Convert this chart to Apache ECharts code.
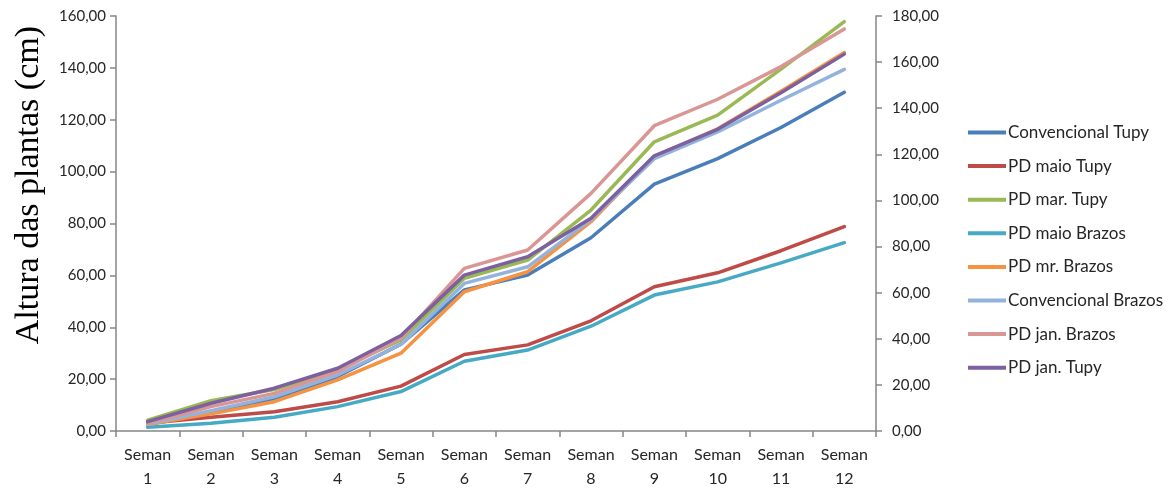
<!DOCTYPE html>
<html>
<head>
<meta charset="utf-8">
<script src="https://cdn.jsdelivr.net/npm/echarts@6/dist/echarts.min.js"></script>
<style>
html,body{margin:0;padding:0;background:#fff;}
#chart{width:1173px;height:488px;}
</style>
</head>
<body>
<div id="chart"></div>
<script>
var categories = ['Seman\n1','Seman\n2','Seman\n3','Seman\n4','Seman\n5','Seman\n6','Seman\n7','Seman\n8','Seman\n9','Seman\n10','Seman\n11','Seman\n12'];
var seriesNames = ['Convencional Tupy','PD maio Tupy','PD mar. Tupy','PD maio Brazos','PD mr. Brazos','Convencional Brazos','PD jan. Brazos','PD jan. Tupy'];
var convTupy     = [2.5, 7.0, 12.5, 21.0, 33.5, 54.4, 60.1, 74.5, 95.2, 105.0, 117.0, 130.6];
var pdMaioTupy   = [3.0, 5.3, 7.4, 11.3, 17.3, 29.5, 33.2, 42.5, 55.6, 61.0, 69.5, 78.8];
var pdMarTupy    = [4.2, 11.7, 16.0, 23.6, 35.1, 58.9, 65.9, 85.2, 111.5, 121.8, 139.5, 157.8];
var pdMaioBrazos = [1.4, 3.0, 5.3, 9.4, 15.2, 26.9, 31.2, 40.4, 52.4, 57.5, 64.8, 72.6];
var pdMrBrazos   = [2.5, 6.6, 11.3, 19.7, 30.0, 53.7, 61.4, 80.7, 105.8, 116.5, 131.0, 145.9];
var convBrazos   = [2.7, 7.8, 13.2, 21.6, 33.4, 56.9, 63.3, 81.5, 105.0, 115.3, 127.5, 139.4];
var pdJanBrazos  = [3.0, 9.4, 14.5, 22.9, 35.8, 62.7, 69.8, 91.6, 117.7, 127.9, 140.5, 155.0];
var pdJanTupy    = [3.6, 10.7, 16.5, 24.2, 36.8, 60.1, 67.2, 82.0, 106.1, 116.3, 130.4, 145.3];
var leftTicks = [0,20,40,60,80,100,120,140,160];
var rightTicks = [0,20,40,60,80,100,120,140,160,180];

var allData = [convTupy, pdMaioTupy, pdMarTupy, pdMaioBrazos, pdMrBrazos, convBrazos, pdJanBrazos, pdJanTupy];
var colors = ['#4A7EBB','#BE4B48','#98B954','#46AAC5','#F69240','#93B3DC','#D99694','#7D60A0'];

function fmt(v){ return v.toFixed(2).replace('.', ','); }

var chart = echarts.init(document.getElementById('chart'));
var axisColor = '#868686';
var textColor = '#262626';
var series = seriesNames.map(function(n, i){
  return {
    name: n, type: 'line', yAxisIndex: 0,
    data: allData[i], symbol: 'none', smooth: false,
    lineStyle: {width: 3.5, color: colors[i], cap: 'round', join: 'round'},
    itemStyle: {color: colors[i]},
    animation: false
  };
});
chart.setOption({
  animation: false,
  color: colors,
  grid: {left: 116, right: 297, top: 16, bottom: 57, containLabel: false, outerBoundsMode: 'none'},
  legend: {
    orient: 'vertical', left: 963, top: 119,
    itemWidth: 38, itemHeight: 14, itemGap: 16.6,
    textStyle: {fontFamily: 'Lato', fontSize: 17, color: textColor, padding: [0,0,0,-3]},
    data: seriesNames.map(function(n){ return {name: n, icon: 'path://M0,6 L38,6 L38,10 L0,10 Z'}; })
  },
  xAxis: {
    type: 'category', data: categories, boundaryGap: true,
    axisLine: {lineStyle: {color: axisColor, width: 1.5}},
    axisTick: {show: true, length: 6, alignWithLabel: false, lineStyle: {color: axisColor, width: 1.5}},
    axisLabel: {fontFamily: 'Lato', fontSize: 16, color: textColor, lineHeight: 24, margin: 12, interval: 0}
  },
  yAxis: [
    {
      type: 'value', min: 0, max: 160, interval: 20, position: 'left',
      axisLine: {show: true, lineStyle: {color: axisColor, width: 1.5}},
      axisTick: {show: true, length: 6, lineStyle: {color: axisColor, width: 1.5}},
      splitLine: {show: false},
      axisLabel: {fontFamily: 'Lato', fontSize: 15, color: textColor, margin: 10, formatter: fmt}
    },
    {
      type: 'value', min: 0, max: 180, interval: 20, position: 'right',
      axisLine: {show: true, lineStyle: {color: axisColor, width: 1.5}},
      axisTick: {show: true, length: 6, lineStyle: {color: axisColor, width: 1.5}},
      splitLine: {show: false},
      axisLabel: {fontFamily: 'Lato', fontSize: 15, color: textColor, margin: 16, formatter: fmt}
    }
  ],
  graphic: [{
    type: 'text', left: 12, top: 26,
    rotation: Math.PI/2, originX: 0, originY: 0,
    style: {text: 'Altura das plantas (cm)', fontFamily: 'Liberation Serif', fontSize: 34, fill: '#000', textAlign: 'center', textVerticalAlign: 'middle'}
  }],
  series: series
});
</script>
</body>
</html>
